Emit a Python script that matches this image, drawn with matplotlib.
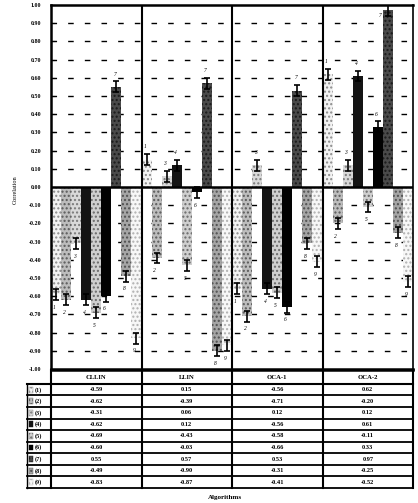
import matplotlib
matplotlib.use("Agg")
import matplotlib.pyplot as plt
import numpy as np
from matplotlib.patches import Rectangle

# ---- data ----
algorithms = ["CLLIN", "LLIN", "OCA-1", "OCA-2"]
series_labels = ["(1)", "(2)", "(3)", "(4)", "(5)", "(6)", "(7)", "(8)", "(9)"]
cllin = [-0.59, -0.62, -0.31, -0.62, -0.69, -0.60, 0.55, -0.49, -0.83]
llin = [0.15, -0.39, 0.06, 0.12, -0.43, -0.03, 0.57, -0.90, -0.87]
oca1 = [-0.56, -0.71, 0.12, -0.56, -0.58, -0.66, 0.53, -0.31, -0.41]
oca2 = [0.62, -0.20, 0.12, 0.61, -0.11, 0.33, 0.97, -0.25, -0.52]
err = 0.03
yticks = np.round(np.arange(1.0, -1.01, -0.1), 2)

values = [cllin, llin, oca1, oca2]
faces = ['#f2f2f2', '#bdbdbd', '#d9d9d9', '#141414', '#cfcfcf', '#020202', '#4a4a4a', '#a5a5a5', '#f7f7f7']
hatchc = ['#8a8a8a', '#5a5a5a', '#7a7a7a', '#141414', '#6a6a6a', '#020202', '#1a1a1a', '#505050', '#b0b0b0']
hatches = ['....', '....', '....', '', '....', '', '....', '....', '....']

W, H = 418, 503
fig = plt.figure(figsize=(W / 100, H / 100), dpi=100)
fig.patch.set_facecolor('white')

serif = ['Liberation Serif', 'DejaVu Serif']

def fx(px):
    return px / W

def fy(py):
    return 1 - py / H

ax_l, ax_r, ax_t, ax_b = 51, 413, 5, 369
ax = fig.add_axes([fx(ax_l), fy(ax_b), fx(ax_r - ax_l), (ax_b - ax_t) / H])
ax.set_xlim(0, 4)
ax.set_ylim(-1, 1)

# dashed grid
for yv in yticks:
    if abs(yv) < 1e-9 or abs(abs(yv) - 1) < 1e-9:
        continue
    ax.axhline(yv, color='black', lw=1.0, ls=(0, (4, 8)), zorder=0)

n = len(series_labels)
bw = 1.0 / n
for i in range(n):
    xs = [g + (i + 0.5) * bw for g in range(len(algorithms))]
    vals = [values[g][i] for g in range(len(algorithms))]
    ax.bar(xs, vals, width=bw, facecolor=faces[i], edgecolor=hatchc[i],
           hatch=hatches[i], linewidth=0, zorder=2)
    ax.errorbar(xs, vals, yerr=err, fmt='none', ecolor='black', elinewidth=1.2,
                capsize=2, capthick=1.2, zorder=3)
    for x, v in zip(xs, vals):
        off = 0.07 if v >= 0 else -0.07
        tx, ty = x - 0.02, v + off
        if ty > 0.95:
            tx, ty = x - 0.75 * bw, v - 0.03
        ax.text(tx, ty, str(i + 1), fontsize=4, fontstyle='italic',
                family=serif, ha='center', va='center', zorder=4)

ax.axhline(0, color='black', lw=1.8, zorder=5)
for g in range(1, len(algorithms)):
    ax.axvline(g, color='black', lw=1.5, zorder=5)
for s in ['left', 'top', 'bottom', 'right']:
    ax.spines[s].set_linewidth(1.8 if s != 'right' else 1.2)

ax.set_xticks([])
ax.set_yticks(yticks)
ax.set_yticklabels([f"{v:.2f}" for v in yticks], fontsize=4.3, fontweight='bold', family=serif)
ax.tick_params(axis='y', direction='in', length=3, width=0.8, pad=7)

fig.text(fx(15), fy(190), "Correlation", rotation=90, fontsize=4.5, family=serif,
         ha='center', va='center')
fig.text(fx(225), fy(498), "Algorithms", fontsize=5, fontweight='bold', family=serif,
         ha='center', va='center')

# ---- table ----
t_l, t_r, t_t, t_b = 27, 413, 370, 488
tab = fig.add_axes([fx(t_l), fy(t_b), fx(t_r - t_l), (t_b - t_t) / H])
gw = (ax_r - ax_l) / 4.0
lc = -(ax_l - t_l) / gw
tab.set_xlim(lc, 4)
head_h = 1.2
nrows = n
tab.set_ylim(head_h + nrows, 0)
tab.axis('off')

# horizontal lines
tab.plot([0, 4], [0, 0], color='black', lw=1.8, clip_on=False)
tab.plot([lc, 4], [head_h, head_h], color='black', lw=1.5, clip_on=False)
for r in range(1, nrows + 1):
    tab.plot([lc, 4], [head_h + r, head_h + r], color='black', lw=1.3, clip_on=False)
for xv in [lc, 0, 1, 2, 3, 4]:
    y0 = 0 if xv >= 0 else head_h
    tab.plot([xv, xv], [y0, head_h + nrows], color='black',
             lw=1.5 if xv >= 0 else 1.0, clip_on=False)

for g, name in enumerate(algorithms):
    tab.text(g + 0.5, head_h / 2 + 0.05, name, fontsize=4.8, fontweight='bold', family=serif,
             ha='center', va='center')
    for r in range(nrows):
        tab.text(g + 0.5, head_h + r + 0.5, f"{values[g][r]:.2f}", fontsize=4.6,
                 fontweight='bold', family=serif, ha='center', va='center')

sw = 0.05
for r in range(nrows):
    yc = head_h + r + 0.5
    tab.add_patch(Rectangle((lc + 0.02, yc - 0.25), sw, 0.5, facecolor=faces[r],
                            edgecolor=hatchc[r], hatch=hatches[r], lw=0.3, clip_on=False))
    tab.text(lc + 0.02 + sw + 0.015, yc, series_labels[r], fontsize=4.4, fontweight='bold',
             family=serif, ha='left', va='center')

fig.savefig("out.png", dpi=100)
